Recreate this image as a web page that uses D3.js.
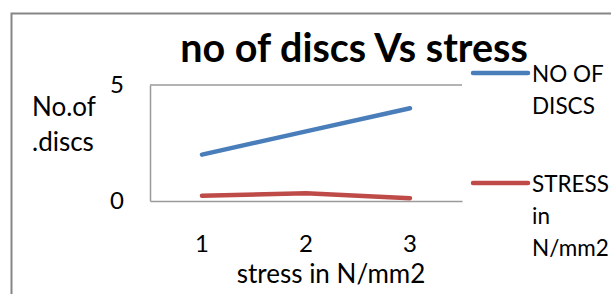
<!DOCTYPE html>
<html>
<head>
<meta charset="utf-8">
<script src="https://cdn.jsdelivr.net/npm/d3@7"></script>
<style>
  body { margin: 0; background: #fff; }
  text { font-family: Lato, "Open Sans", sans-serif; fill: #000; }
</style>
</head>
<body>
<svg id="chart" width="611" height="294"></svg>
<script>
const categories = ["1", "2", "3"];
const noOfDiscs = [2, 3, 4];
const stressValues = [0.23, 0.33, 0.12];
const yTicks = [0, 5];

const series = [
  { name: ["NO OF", "DISCS"], values: noOfDiscs, color: "#4A7EBB" },
  { name: ["STRESS", "in", "N/mm2"], values: stressValues, color: "#BE4B48" }
];

const svg = d3.select("#chart");

// chart border
svg.append("rect")
  .attr("x", 11.5)
  .attr("y", 13.5)
  .attr("width", 640)
  .attr("height", 320)
  .attr("fill", "none")
  .attr("stroke", "#868686")
  .attr("stroke-width", 2);

const plot = { left: 150, right: 462, top: 85, bottom: 201 };

const x = d3.scaleBand()
  .domain(categories)
  .range([plot.left, plot.right]);

const y = d3.scaleLinear()
  .domain([0, 5])
  .range([plot.bottom, plot.top]);

// top gridline at 5
svg.append("line")
  .attr("x1", plot.left)
  .attr("x2", plot.right)
  .attr("y1", y(5))
  .attr("y2", y(5))
  .attr("stroke", "#9a9a9a")
  .attr("stroke-width", 1.5);

// y axis
const yAxis = svg.append("g")
  .attr("transform", `translate(${plot.left},0)`)
  .call(d3.axisLeft(y).tickValues(yTicks).tickFormat(d3.format("d")).tickSize(0).tickPadding(26));
yAxis.select(".domain").attr("stroke", "#9a9a9a").attr("stroke-width", 1.5);
yAxis.selectAll("text")
  .style("font-size", "24px")
  .style("font-family", "Lato, sans-serif");

// x axis
const xAxis = svg.append("g")
  .attr("transform", `translate(0,${plot.bottom})`)
  .call(d3.axisBottom(x).tickSize(0).tickPadding(34));
xAxis.select(".domain").attr("stroke", "#9a9a9a").attr("stroke-width", 1.5);
xAxis.selectAll("text")
  .style("font-size", "24px")
  .style("font-family", "Lato, sans-serif");

// lines
const line = d3.line()
  .x((d, i) => x(categories[i]) + x.bandwidth() / 2)
  .y((d) => y(d));

svg.selectAll("path.series")
  .data(series)
  .enter()
  .append("path")
  .attr("class", "series")
  .attr("d", (d) => line(d.values))
  .attr("fill", "none")
  .attr("stroke", (d) => d.color)
  .attr("stroke-width", 4.5)
  .attr("stroke-linecap", "round")
  .attr("stroke-linejoin", "round");

// title
svg.append("text")
  .attr("x", 354)
  .attr("y", 62)
  .attr("text-anchor", "middle")
  .style("font-size", "39.5px")
  .style("font-weight", "bold")
  .text("no of discs Vs stress");

// axis titles
svg.append("text")
  .attr("x", 331)
  .attr("y", 283)
  .attr("text-anchor", "middle")
  .style("font-size", "26px")
  .text("stress in N/mm2");

svg.append("text")
  .attr("x", 32)
  .attr("y", 116)
  .style("font-size", "26px")
  .selectAll("tspan")
  .data(["No.of", ".discs"])
  .enter()
  .append("tspan")
  .attr("x", 32)
  .attr("dy", (d, i) => (i === 0 ? 0 : 35))
  .text((d) => d);

// legend
const legendTop = [73, 183];
const legend = svg.selectAll("g.legend")
  .data(series)
  .enter()
  .append("g")
  .attr("class", "legend")
  .attr("transform", (d, i) => `translate(473,${legendTop[i]})`);

legend.append("line")
  .attr("x1", 0)
  .attr("x2", 55)
  .attr("stroke", (d) => d.color)
  .attr("stroke-width", 4.5)
  .attr("stroke-linecap", "round");

legend.append("text")
  .attr("y", 8.5)
  .style("font-size", "22.5px")
  .selectAll("tspan")
  .data((d) => d.name)
  .enter()
  .append("tspan")
  .attr("x", 59)
  .attr("dy", (d, i) => (i === 0 ? 0 : 32))
  .text((d) => d);
</script>
</body>
</html>
